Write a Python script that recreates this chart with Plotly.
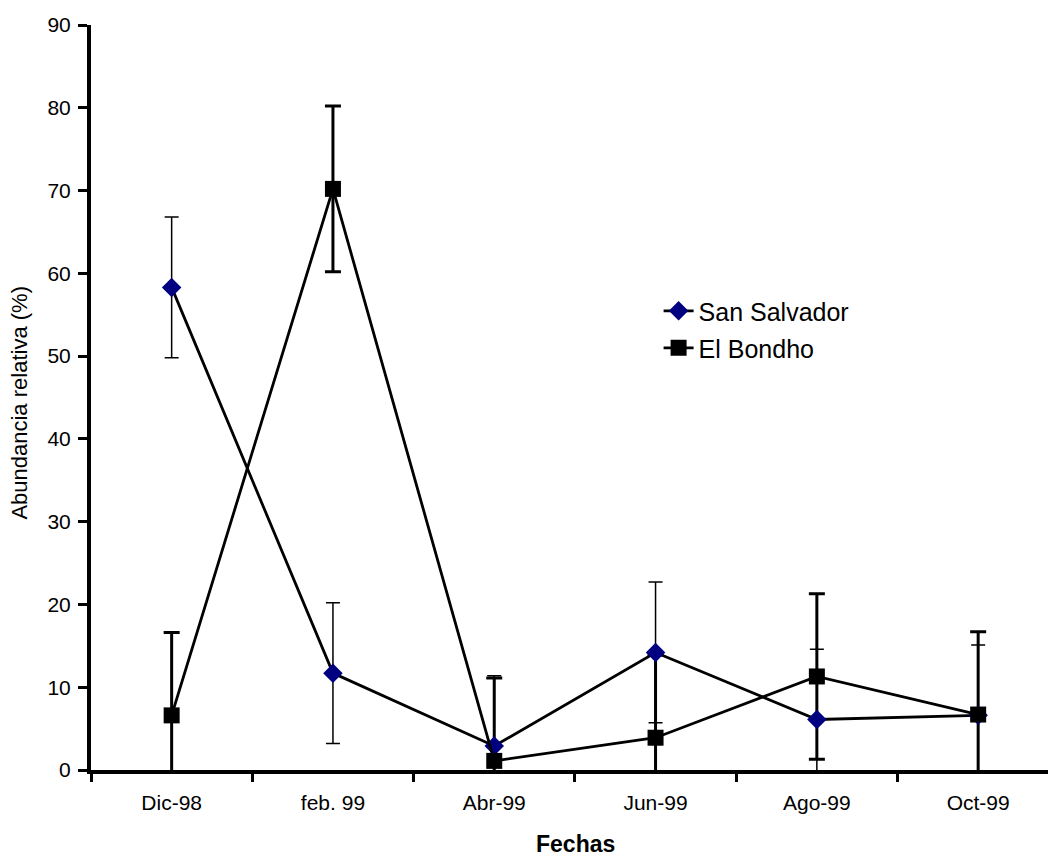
import plotly.graph_objects as go

fechas = ["Dic-98", "feb. 99", "Abr-99", "Jun-99", "Ago-99", "Oct-99"]
san_salvador = [58.3, 11.7, 2.9, 14.2, 6.1, 6.6]
san_salvador_err = [8.5, 8.5, 8.5, 8.5, 8.5, 8.5]
el_bondho = [6.6, 70.2, 1.1, 3.9, 11.3, 6.7]
el_bondho_err = [10.0, 10.0, 10.0, 10.0, 10.0, 10.0]

FONT = "Arial, Liberation Sans, sans-serif"

fig = go.Figure()

# El Bondho error bars underneath everything
fig.add_trace(go.Scatter(
    x=fechas, y=el_bondho, mode="lines", line=dict(width=0, color="rgba(0,0,0,0)"),
    error_y=dict(type="data", array=el_bondho_err, visible=True,
                 color="black", thickness=3, width=8),
    showlegend=False, hoverinfo="skip"))

fig.add_trace(go.Scatter(
    x=fechas, y=san_salvador, mode="lines+markers", name="San Salvador",
    line=dict(color="black", width=2.8),
    marker=dict(symbol="diamond", size=15, color="#000080"),
    error_y=dict(type="data", array=san_salvador_err, visible=True,
                 color="black", thickness=1.5, width=7),
    legend="legend"))

fig.add_trace(go.Scatter(
    x=fechas, y=el_bondho, mode="lines+markers", name="El Bondho",
    line=dict(color="black", width=2.8),
    marker=dict(symbol="square", size=16, color="black"),
    legend="legend2"))

fig.update_layout(
    width=1048, height=856,
    margin=dict(l=91, r=0, t=25, b=86),
    plot_bgcolor="white", paper_bgcolor="white",
    font=dict(family=FONT, color="black", size=21),
    xaxis=dict(
        type="category", range=[-0.5, 5.433], tickson="boundaries",
        showline=True, linecolor="black", linewidth=4,
        ticks="outside", ticklen=8, tickwidth=3, tickcolor="black",
        showgrid=False, zeroline=False,
        tickfont=dict(family=FONT, size=21, color="black"),
        ticklabelstandoff=11,
    ),
    yaxis=dict(
        range=[0, 90], dtick=10, tick0=0,
        showline=True, linecolor="black", linewidth=4,
        ticks="outside", ticklen=9, tickwidth=3, tickcolor="black",
        showgrid=False, zeroline=False,
        tickfont=dict(family=FONT, size=21, color="black"),
        ticklabelstandoff=3,
    ),
    legend=dict(x=0.5931, y=0.616, xanchor="left", yanchor="middle",
                font=dict(family=FONT, size=25, color="black"),
                bgcolor="rgba(0,0,0,0)"),
    legend2=dict(x=0.5931, y=0.5664, xanchor="left", yanchor="middle",
                 font=dict(family=FONT, size=25, color="black"),
                 bgcolor="rgba(0,0,0,0)"),
    annotations=[
        dict(text="Abundancia relativa (%)", textangle=-90, xref="paper", yref="paper",
             x=-0.0743, y=0.493, xanchor="center", yanchor="middle", showarrow=False,
             font=dict(family=FONT, size=22, color="black")),
        dict(text="<b>Fechas</b>", xref="paper", yref="paper",
             x=0.5063, y=-0.0993, xanchor="center", yanchor="middle", showarrow=False,
             font=dict(family=FONT, size=23, color="black")),
    ],
)

fig.write_html("out.html")
